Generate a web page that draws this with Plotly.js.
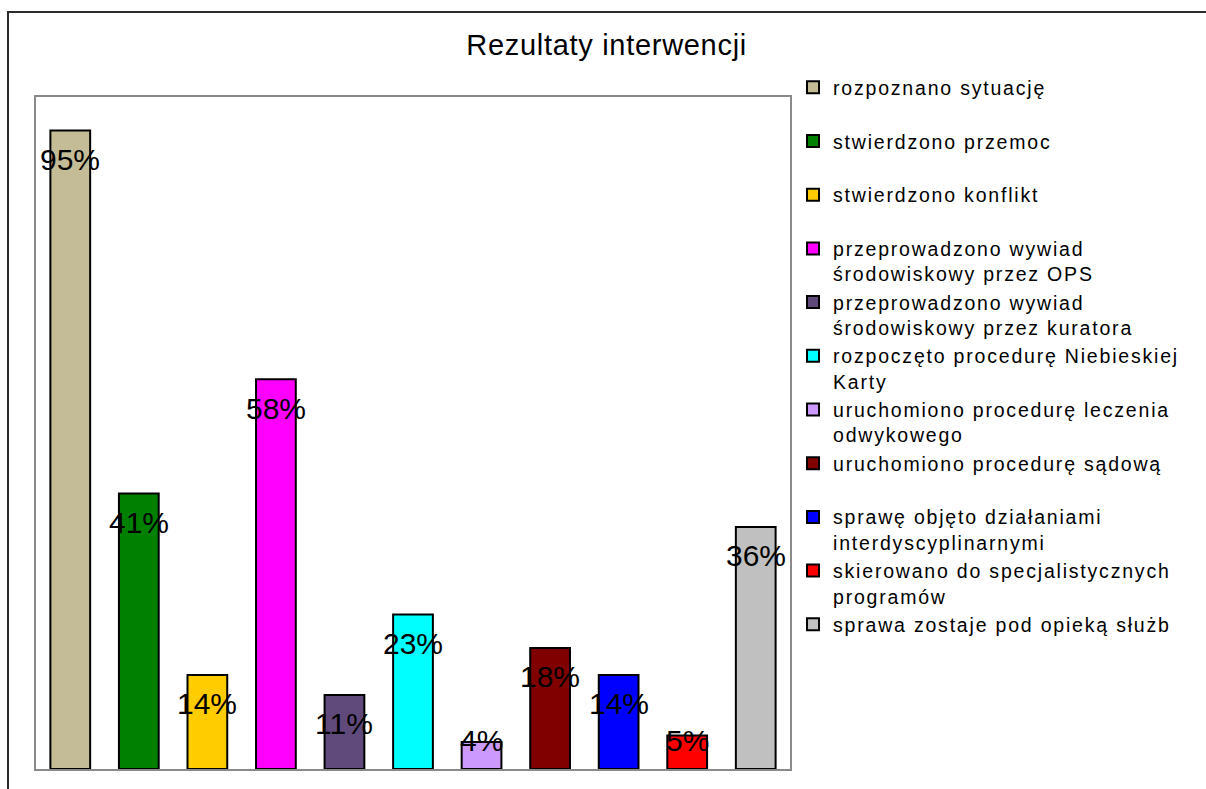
<!DOCTYPE html>
<html>
<head>
<meta charset="utf-8">
<script src="https://cdn.plot.ly/plotly-3.0.1.min.js"></script>
<style>
  html, body { margin: 0; padding: 0; background: #fff; overflow: hidden; }
  #chart { position: absolute; left: 0; top: 0; width: 1206px; height: 789px; }
  #frame {
    position: absolute; left: 7px; top: 11px; width: 1400px; height: 1000px;
    border-left: 2px solid #2b2b2b; border-top: 2px solid #2b2b2b;
    pointer-events: none; z-index: 2;
  }
  .legendtext { letter-spacing: 1.8px; }
  .gtitle { letter-spacing: 0.7px; }
</style>
</head>
<body>
<div id="chart"></div>
<div id="frame"></div>
<script>
// Intervention outcomes, share of cases (%)
const seriesNames = [
  'rozpoznano sytuację',
  'stwierdzono przemoc',
  'stwierdzono konflikt',
  'przeprowadzono wywiad<br>środowiskowy przez OPS',
  'przeprowadzono wywiad<br>środowiskowy przez kuratora',
  'rozpoczęto procedurę Niebieskiej<br>Karty',
  'uruchomiono procedurę leczenia<br>odwykowego',
  'uruchomiono procedurę sądową',
  'sprawę objęto działaniami<br>interdyscyplinarnymi',
  'skierowano do specjalistycznych<br>programów',
  'sprawa zostaje pod opieką służb'
];
const seriesValues = [95, 41, 14, 58, 11, 23, 4, 18, 14, 5, 36];
const seriesColors = [
  '#C4BC96', '#008000', '#FFCC00', '#FF00FF', '#604A7B', '#00FFFF',
  '#CC99FF', '#800000', '#0000FF', '#FF0000', '#C0C0C0'
];

const FONT = '"Liberation Sans", Arial, sans-serif';

// one bar per series, each in its own slot along the hidden category axis;
// single-line names get an empty second line so every legend entry has the same height
const traces = seriesNames.map((name, i) => ({
  type: 'bar',
  name: name.includes('<br>') ? name : name + '<br> ',
  x: [i],
  y: [seriesValues[i]],
  width: 0.58,
  marker: { color: seriesColors[i], line: { color: '#000', width: 2 } },
  hoverinfo: 'skip'
}));

// value labels sit just under the top of each bar, kept off the baseline for short bars
const labelInset = 4.3;
const annotations = seriesValues.map((v, i) => ({
  x: i,
  y: Math.max(v - labelInset, labelInset),
  xref: 'x', yref: 'y',
  text: v + '%',
  showarrow: false,
  xanchor: 'center', yanchor: 'middle',
  font: { family: FONT, size: 30, color: '#000' }
}));

const layout = {
  width: 1206, height: 789,
  margin: { l: 36, r: 416, t: 97, b: 20 },
  paper_bgcolor: '#fff', plot_bgcolor: '#fff',
  barmode: 'overlay',
  showlegend: true,
  title: {
    text: 'Rezultaty interwencji',
    xref: 'container', yref: 'container',
    x: 0.503, xanchor: 'center',
    y: 0.943, yanchor: 'middle',
    font: { family: FONT, size: 29, color: '#000' }
  },
  xaxis: {
    range: [-0.5, 10.5], showticklabels: false, ticks: '', showgrid: false, zeroline: false,
    showline: true, mirror: true, linecolor: '#8a8a8a', linewidth: 2, fixedrange: true
  },
  yaxis: {
    range: [0, 100], showticklabels: false, ticks: '', showgrid: false, zeroline: false,
    showline: true, mirror: true, linecolor: '#8a8a8a', linewidth: 2, fixedrange: true
  },
  legend: {
    x: 1.004, xanchor: 'left',
    y: 1.043, yanchor: 'top',
    valign: 'top',
    traceorder: 'normal',
    maxheight: 740,
    font: { family: FONT, size: 19.5, color: '#000' },
    bgcolor: 'rgba(0,0,0,0)', borderwidth: 0
  },
  annotations: annotations
};

Plotly.newPlot('chart', traces, layout, { displayModeBar: false, staticPlot: true });
</script>
</body>
</html>
